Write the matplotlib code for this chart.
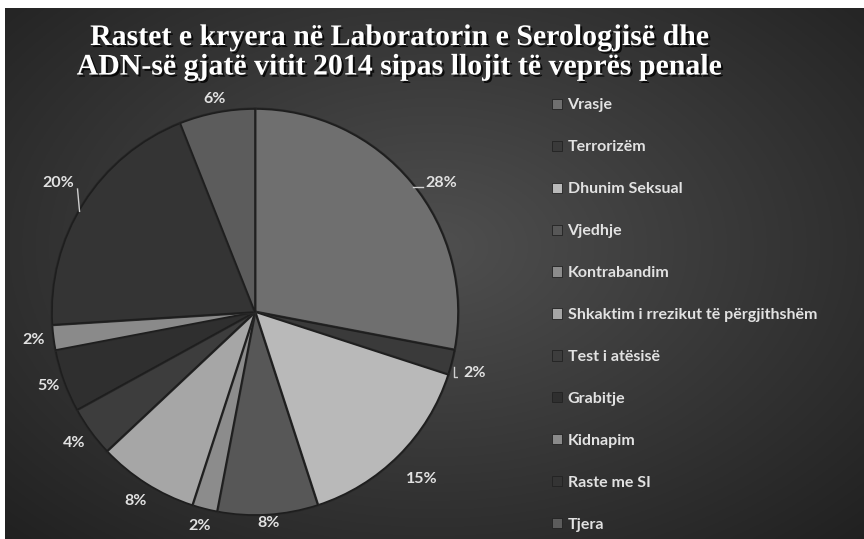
import numpy as np
import matplotlib
matplotlib.use("Agg")
import matplotlib.pyplot as plt
import matplotlib.patheffects as pe

categories = ["Vrasje", "Terrorizëm", "Dhunim Seksual", "Vjedhje", "Kontrabandim",
              "Shkaktim i rrezikut të përgjithshëm", "Test i atësisë", "Grabitje",
              "Kidnapim", "Raste me SI", "Tjera"]
shares = [28, 2, 15, 8, 2, 8, 4, 5, 2, 20, 6]
colors = ["#6f6f6f", "#3a3a3a", "#b9b9b9", "#575757", "#8c8c8c", "#a6a6a6",
          "#3d3d3d", "#2f2f2f", "#8a8a8a", "#343434", "#5c5c5c"]
title = "Rastet e kryera në Laboratorin e Serologjisë dhe\nADN-së gjatë vitit 2014 sipas llojit të veprës penale"

# how far out each percentage label sits (pie radius = 1)
label_r = [1.12, 1.15, 1.16, 1.04, 1.09, 1.1, 1.1, 1.08, 1.1, 1.17, 1.07]

W, H = 864, 539
fig = plt.figure(figsize=(W / 100, H / 100), dpi=100, facecolor="white")

# dark radial background
bg = fig.add_axes([5 / W, 0, 1 - 5 / W, 1 - 8 / H])
yy, xx = np.mgrid[0:1:300j, 0:1:500j]
r = np.sqrt(((xx - 0.5) / 0.75) ** 2 + ((yy - 0.55) / 0.8) ** 2)
val = 0.31 - 0.19 * np.clip(r, 0, 1)
bg.imshow(np.dstack([val] * 3), extent=[0, 1, 0, 1], aspect="auto", origin="lower")
bg.axis("off")

cx, cy, R = 255, 312, 203
ax = fig.add_axes([(cx - R) / W, (H - cy - R) / H, 2 * R / W, 2 * R / H])
wedges, texts, autotexts = ax.pie(
    shares, colors=colors, startangle=90, counterclock=False,
    autopct="%.0f%%", pctdistance=1.1,
    wedgeprops=dict(edgecolor="#1e1e1e", linewidth=1.2),
    textprops=dict(color="#e2e2e2", fontsize=11.5, family="Lato", fontweight="bold"))
ax.set_xlim(-1, 1)
ax.set_ylim(-1, 1)
ax.axis("off")

lc = dict(color="#cfcfcf", lw=1)
for i, (w, t) in enumerate(zip(wedges, autotexts)):
    w.set_path_effects([pe.withStroke(linewidth=2.2, foreground="#2a2a2a")])
    ang = np.deg2rad((w.theta1 + w.theta2) / 2)
    x0, y0 = np.cos(ang), np.sin(ang)
    t.set_position((label_r[i] * x0, label_r[i] * y0))
    if i == 0:
        ax.plot([x0 + 0.01, x0 + 0.055], [y0 - 0.02, y0 - 0.02], **lc)
        t.set_position((x0 + 0.07, y0))
        t.set_ha("left")
    elif i == 1:
        ax.plot([x0 + 0.01, x0 + 0.01, x0 + 0.045], [y0 - 0.02, y0 - 0.07, y0 - 0.07], **lc)
        t.set_position((x0 + 0.06, y0 - 0.05))
        t.set_ha("left")
    elif i == 9:
        ax.plot([x0 - 0.03, x0 - 0.02], [y0 + 0.07, y0 - 0.04], **lc)
        t.set_position((x0 - 0.045, y0 + 0.1))
        t.set_ha("right")

fig.text(0.463, 0.903, title, ha="center", va="center", color="white",
         fontsize=21.5, fontweight="bold", family="Liberation Serif",
         linespacing=1.12,
         path_effects=[pe.withSimplePatchShadow(offset=(1.5, -1.5), shadow_rgbFace="black", alpha=0.8)])

handles = [plt.Rectangle((0, 0), 1, 1, facecolor=c, edgecolor="#222222", linewidth=0.6) for c in colors]
fig.legend(handles, categories, loc="upper left", bbox_to_anchor=(538 / W, 1 - 84 / H),
           frameon=False, labelcolor="#e2e2e2",
           prop=dict(family="Lato", size=11.5, weight="bold"),
           handlelength=0.6, handleheight=0.6, handletextpad=0.35, labelspacing=1.75)

fig.savefig("out.png", dpi=100, facecolor="white")
